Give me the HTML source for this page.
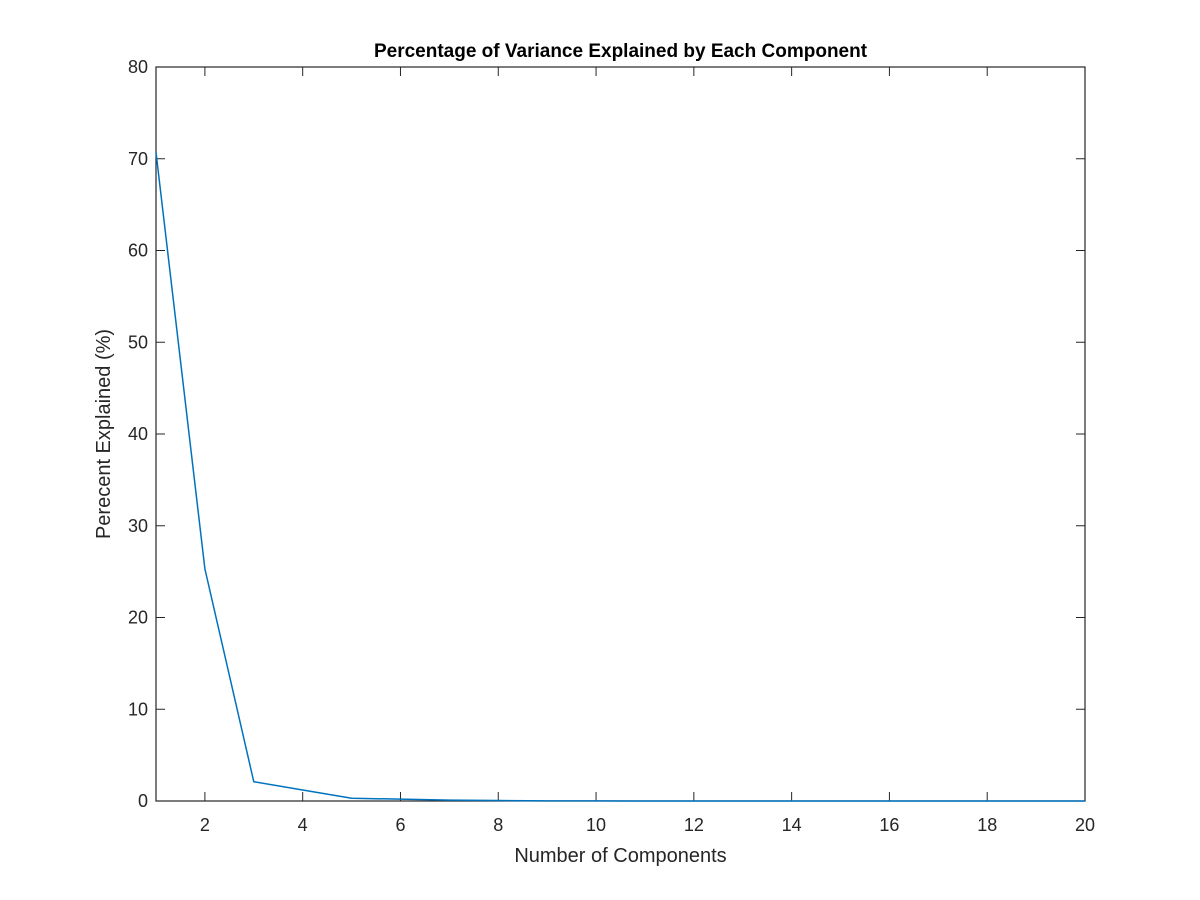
<!DOCTYPE html>
<html><head><meta charset="utf-8"><style>
html,body{margin:0;padding:0;background:#fff;}
svg{display:block;font-family:"Liberation Sans",Arial,sans-serif;}
</style></head><body>
<svg id="chart" width="1200" height="900">
<rect width="1200" height="900" fill="#fff"/>
<g id="plot"></g>
</svg>
<script>
const components = [1,2,3,4,5,6,7,8,9,10,11,12,13,14,15,16,17,18,19,20];
const explained = [70.7,25.3,2.1,1.2,0.3,0.2,0.1,0.05,0.02,0.01,0,0,0,0,0,0,0,0,0,0];
const xTicks = [2,4,6,8,10,12,14,16,18,20];
const yTicks = [0,10,20,30,40,50,60,70,80];
const L=156,R=1085,T=67,B=801;
const xs=v=>L+(v-1)/(20-1)*(R-L);
const ys=v=>B-(v/80)*(B-T);
const NS="http://www.w3.org/2000/svg";
const g=document.getElementById('plot');
function mk(t,a,p){const e=document.createElementNS(NS,t);for(const k in a)e.setAttribute(k,a[k]);(p||g).appendChild(e);return e;}
const frame=mk('rect',{x:L,y:T,width:R-L,height:B-T,fill:'none',stroke:'#262626','stroke-width':1.2});


xTicks.forEach(v=>{
 const x=xs(v);
 mk('line',{x1:x,y1:B,x2:x,y2:B-9,stroke:'#262626'});
 mk('line',{x1:x,y1:T,x2:x,y2:T+9,stroke:'#262626'});
 const t=mk('text',{x:x,y:B+30,'text-anchor':'middle','font-size':18,fill:'#262626'});t.textContent=v;
 
 
});
yTicks.forEach(v=>{
 const y=ys(v);
 mk('line',{x1:L,y1:y,x2:L+9,y2:y,stroke:'#262626'});
 mk('line',{x1:R,y1:y,x2:R-9,y2:y,stroke:'#262626'});
 const t=mk('text',{x:L-8,y:y+6,'text-anchor':'end','font-size':18,fill:'#262626'});t.textContent=v;
 
 
});
const pts=components.map((c,i)=>xs(c)+','+ys(explained[i])).join(' ');
const line=mk('polyline',{points:pts,fill:'none',stroke:'#0072BD','stroke-width':1.5});


const title=mk('text',{x:(L+R)/2,y:57,'text-anchor':'middle','font-size':19,'font-weight':'bold',fill:'#000'});
title.textContent='Percentage of Variance Explained by Each Component';


const xl=mk('text',{x:(L+R)/2,y:862,'text-anchor':'middle','font-size':20,fill:'#262626'});
xl.textContent='Number of Components';


const yl=mk('text',{x:0,y:0,'text-anchor':'middle','font-size':20,fill:'#262626',transform:'translate(110,434) rotate(-90)'});
yl.textContent='Perecent Explained (%)';


</script>
</body></html>
